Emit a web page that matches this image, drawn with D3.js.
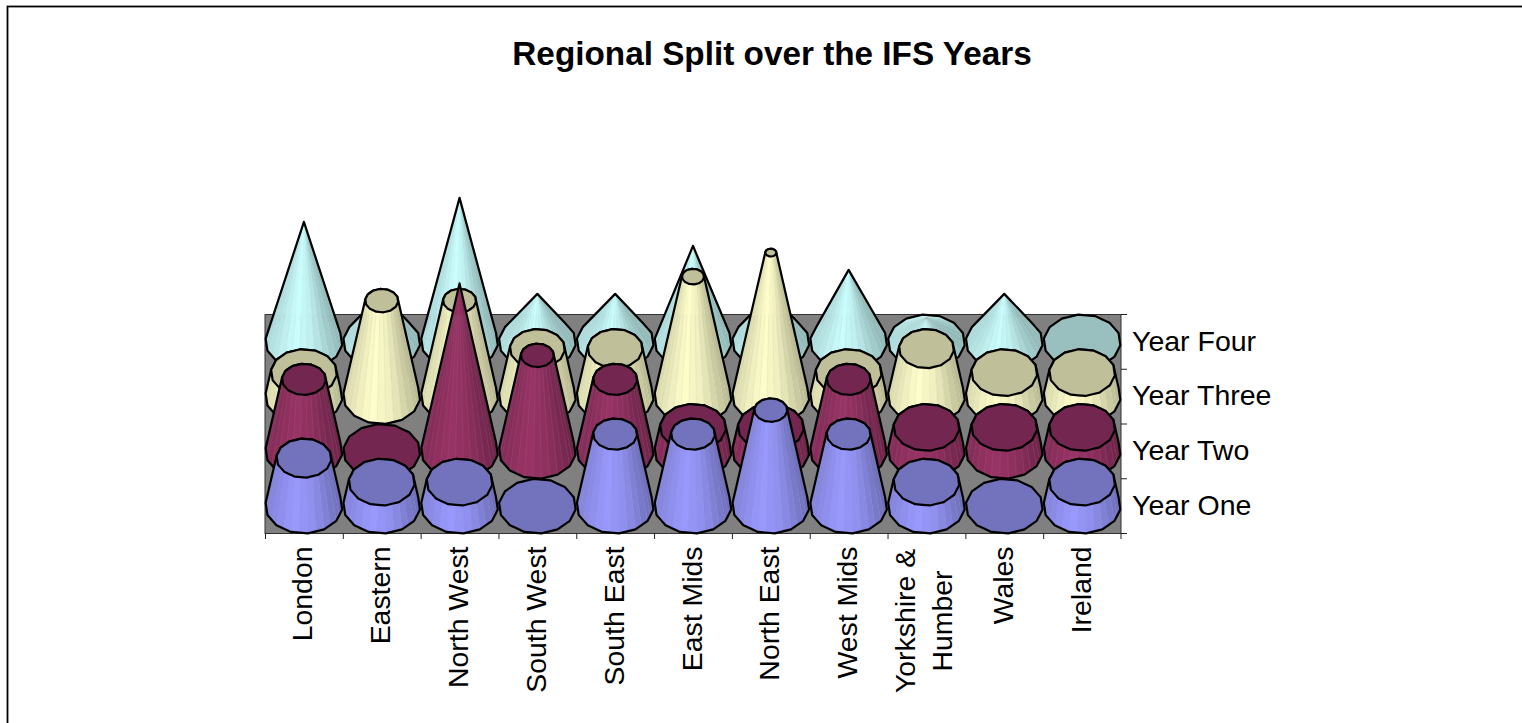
<!DOCTYPE html>
<html><head><meta charset="utf-8">
<script src="https://cdnjs.cloudflare.com/ajax/libs/d3/7.8.5/d3.min.js"></script>
<style>html,body{margin:0;padding:0;background:#fff;overflow:hidden}svg{display:block}text{font-family:"Liberation Sans",Arial,sans-serif;fill:#000}</style>
</head><body><svg id="c" width="1522" height="723"></svg>
<script>
const title = "Regional Split over the IFS Years";
const regions = ["London","Eastern","North West","South West","South East","East Mids","North East","West Mids","Yorkshire & Humber","Wales","Ireland"];
const years = ["Year One","Year Two","Year Three","Year Four"];
const yearOne   = [2,1,1,0,3,3,4,3,1,0,1];
const yearTwo   = [3,0,7,4,3,1,1,3,1,1,1];
const yearThree = [1,4,4,2,2,5,6,1,2,1,1];
const yearFour  = [5,2,6,2,2,4,2,3,1,2,0];
const sideColors = ["#9999ff","#993366","#ffffcc","#ccffff"];
const topColors  = ["#7272bd","#73264f","#bfbf99","#99bfbf"];
const pointed = [false,false,false,true];   // Year Four tapers to its own tip
const maxValue = 7;

const series = [yearOne,yearTwo,yearThree,yearFour];
const svg = d3.select("#c");

svg.append("rect").attr("x",7.5).attr("y",6.5).attr("width",1600).attr("height",800)
  .attr("fill","#fff").attr("stroke","#000").attr("stroke-width",1.8);
svg.append("text").attr("x",772).attr("y",65).attr("text-anchor","middle")
  .attr("font-size",33.3).attr("font-weight","bold").text(title);

const x = d3.scaleBand().domain(regions).range([265,1121]);
const y = d3.scaleBand().domain(years).range([533.5,314.5]);
const h = d3.scaleLinear().domain([0,maxValue]).range([0,168]);
const depthRatio = (y.bandwidth()/2)/(x.bandwidth()/2*0.99);

svg.append("clipPath").attr("id","wall").append("rect").attr("x",265).attr("y",314.5).attr("width",856).attr("height",219);
svg.append("rect").attr("x",265).attr("y",314.5).attr("width",856).attr("height",219)
  .attr("fill","#808080").attr("stroke","#333").attr("stroke-width",1);

// tick marks at band edges
const tg = svg.append("g").attr("stroke","#222").attr("stroke-width",1);
regions.forEach((r,i)=>tg.append("line").attr("x1",x(r)+.5).attr("x2",x(r)+.5).attr("y1",533.5).attr("y2",539));
tg.append("line").attr("x1",1121).attr("x2",1121).attr("y1",533.5).attr("y2",539);
years.forEach(s=>tg.append("line").attr("x1",1121).attr("x2",1127).attr("y1",y(s)+y.bandwidth()).attr("y2",y(s)+y.bandwidth()));
tg.append("line").attr("x1",1121).attr("x2",1127).attr("y1",314.5).attr("y2",314.5);

const N = 28, tilt = 0.12;
function ring(cx,cy,r){
  const ry = r*depthRatio, pts=[];
  const v = i=>{const a=(i*2)/N*2*Math.PI+tilt;return [cx+r*Math.cos(a),cy+ry*Math.sin(a)];};
  for(let i=0;i<N;i++){
    if(i%2===0) pts.push(v(i/2));
    else {const p=v((i-1)/2),q=v((i+1)/2);pts.push([(p[0]+q[0])/2,(p[1]+q[1])/2]);}
  }
  return pts;
}
const shadeAt = d3.scaleLinear().domain([-1,-0.3,0.3,1]).range([0.86,1,0.93,0.72]);
function tint(c,k){const o=d3.rgb(c);return d3.rgb(o.r*k,o.g*k,o.b*k).formatHex();}
const line = d3.line().curve(d3.curveLinearClosed);
const R = x.bandwidth()/2*0.99;
const LW = 2.2;

d3.range(series.length).reverse().forEach(s=>{
  const vals = series[s];
  const g = svg.append("g").attr("class","series");
  vals.forEach((v,i)=>{
    const cx = x(regions[i])+x.bandwidth()/2, cy = y(years[s])+y.bandwidth()/2;
    const tip = pointed[s] ? v : maxValue;
    const topR = v===0 ? R : R*(1-v/tip);
    const topY = cy-h(v);
    const base = ring(cx,cy,R), top = ring(cx,topY,topR);
    const hull = d3.polygonHull(base.concat(top));
    if(v>0){
      g.append("path").attr("d",line(hull)).attr("fill",sideColors[s]);
      const order = d3.range(N).sort((a,b)=>(base[a][1]+base[(a+1)%N][1])-(base[b][1]+base[(b+1)%N][1]));
      order.forEach(k=>{
        const n=(k+1)%N;
        const mx=((base[k][0]+base[n][0])/2-cx)/R;
        g.append("path").attr("d",line([base[k],base[n],top[n],top[k]])).attr("fill",tint(sideColors[s],shadeAt(mx)));
      });
      // facet seams let the grey wall show through faintly
      const seams = g.append("g").attr("clip-path","url(#wall)").attr("stroke","#a0a0a0").attr("stroke-width",0.7).attr("stroke-opacity",0.18);
      d3.range(N).forEach(k=>{
        if(!pointed[s] && base[k][1]<cy) return;
        seams.append("line").attr("x1",base[k][0]).attr("y1",base[k][1]).attr("x2",top[k][0]).attr("y2",top[k][1]);
      });
      g.append("path").attr("d",line(hull)).attr("fill","none").attr("stroke","#000").attr("stroke-width",LW).attr("stroke-linejoin","round");
    }
    if(topR>0.01){
      g.append("path").attr("d",line(top)).attr("fill",topColors[s]).attr("stroke","#000").attr("stroke-width",LW).attr("stroke-linejoin","round");
    }
  });
});

// category labels via axis
const ax = svg.append("g").attr("transform","translate(0,533.5)").call(d3.axisBottom(x).tickSize(0).tickPadding(0));
ax.select(".domain").remove();
ax.selectAll("text").each(function(d){
  const t=d3.select(this).text(null).attr("font-size",28.4).attr("y",null).attr("dy",null)
    .attr("transform","translate(0,13) rotate(-90)");
  if(d==="Yorkshire & Humber"){
    t.attr("text-anchor","middle");
    t.append("tspan").attr("x",-74.5).attr("y",-11).text("Yorkshire &");
    t.append("tspan").attr("x",-74.5).attr("y",26).text("Humber");
  } else {
    t.attr("text-anchor","end");
    t.append("tspan").attr("x",0).attr("y",8.5).text(d);
  }
});
ax.selectAll("text").attr("font-family",'"Liberation Sans"');

// series labels via axis
const ay = svg.append("g").attr("transform","translate(1121,-0.3)").call(d3.axisRight(y).tickSize(0).tickPadding(11));
ay.select(".domain").remove();
ay.selectAll("text").attr("font-size",28.5).attr("font-family",'"Liberation Sans"').attr("dy",".32em");
</script></body></html>
